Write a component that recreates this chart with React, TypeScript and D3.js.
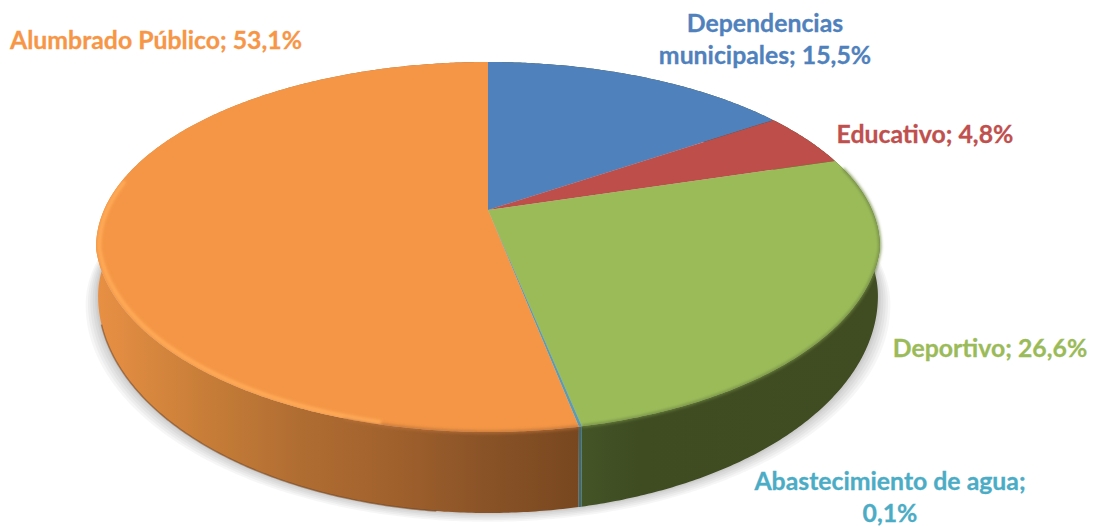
import React, { useMemo } from "react";
import * as d3 from "d3";

const categories = ["Dependencias municipales", "Educativo", "Deportivo", "Abastecimiento de agua", "Alumbrado Público"];
const shares = [15.5, 4.8, 26.6, 0.1, 53.1];
const shareLabels = ["15,5%", "4,8%", "26,6%", "0,1%", "53,1%"];
const faceColors = ["#4f81bd", "#bd4e4a", "#9bbb59", "#5a9cb4", "#f49645"];
const wallColors = ["#3f4c22", "#3f4c22", "url(#wallGreen)", "#3d6a70", "url(#wallOrange)"];
const labelColors = ["#4f81bd", "#c0504d", "#9bbb59", "#4bacc6", "#f79646"];

const W = 1093, H = 527;
const CX = 488, CY = 210, K = 384, A = 135.6, C = -0.2;
const RIM_CY = 247, RIM_RY = 185;
const WALL_CY = 296, WALL_RY = 217, WALL_SCALE = 390 / 392;

type P = [number, number];
const project = (th: number, r = 1): P => {
  const u = r * Math.sin(th), v = -r * Math.cos(th);
  const w = 1 + C * v;
  const x = CX + (K * u) / w;
  const y = (A * v + CY) / w;
  const s = (y - RIM_CY) / RIM_RY;
  const warp = s > 0 ? 10 * (1 - s) * (1 - Math.exp(-s * 12)) : 0;
  return [x, y - warp];
};
const lower = (th: number): P => {
  const [x] = project(th);
  const v = -Math.cos(th);
  const w = 1 + C * v;
  const s = ((A * v + CY) / w - RIM_CY) / RIM_RY;
  return [CX + (x - CX) * WALL_SCALE, WALL_CY + (s > 0 ? WALL_RY : RIM_RY) * s];
};
const line = d3.line<P>().curve(d3.curveLinear);
const angles = (a: number, b: number): number[] => {
  const n = Math.max(2, Math.ceil((b - a) * 120));
  return d3.range(n + 1).map((i) => a + ((b - a) * i) / n);
};
const arcPts = (a: number, b: number, r = 1): P[] => angles(a, b).map((t) => project(t, r));

export default function App() {
  const slices = useMemo(
    () => d3.pie<number>().sort(null).value((d) => d)(shares),
    []
  );
  const full = arcPts(0, 2 * Math.PI);
  const bottom = angles(0, 2 * Math.PI).map(lower);
  const orange = slices[4], green = slices[2];

  const labels = [
    { lines: ["Dependencias", `municipales; ${shareLabels[0]}`], x: 765, y: 32, i: 0 },
    { lines: [`${categories[1]}; ${shareLabels[1]}`], x: 925, y: 143, i: 1 },
    { lines: [`${categories[2]}; ${shareLabels[2]}`], x: 990, y: 357, i: 2 },
    { lines: ["Abastecimiento de agua;", shareLabels[3]], x: 890, y: 490, i: 3 },
    { lines: [`${categories[4]}; ${shareLabels[4]}`], x: 156, y: 49, i: 4 },
  ];

  return (
    <svg width={W} height={H} style={{ position: "absolute", left: 0, top: 0, background: "#fff" }}>
      <defs>
        <filter id="soft" filterUnits="userSpaceOnUse" x={0} y={0} width={W} height={H}>
          <feGaussianBlur stdDeviation="1.6" />
        </filter>
        <filter id="edge" filterUnits="userSpaceOnUse" x={0} y={0} width={W} height={H}>
          <feGaussianBlur stdDeviation="1.4" />
        </filter>
        <linearGradient id="wallOrange" gradientUnits="userSpaceOnUse" x1="96" x2="580" y1="0" y2="0">
          <stop offset="0" stopColor="#e89044" />
          <stop offset="0.22" stopColor="#c87e38" />
          <stop offset="0.42" stopColor="#b06d32" />
          <stop offset="0.6" stopColor="#a2622d" />
          <stop offset="0.8" stopColor="#8a5327" />
          <stop offset="1" stopColor="#78471f" />
        </linearGradient>
        <linearGradient id="wallGreen" gradientUnits="userSpaceOnUse" x1="578" x2="880" y1="0" y2="0">
          <stop offset="0" stopColor="#445527" />
          <stop offset="0.2" stopColor="#3f4c22" />
          <stop offset="1" stopColor="#404c21" />
        </linearGradient>
        <clipPath id="faceClip">
          <path d={line(full)! + "Z"} />
        </clipPath>
      </defs>

      {/* soft ground shadow built from stacked translucent outlines of the wall's footprint */}
      {[16, 13, 10, 7, 4, 2].map((g) => (
        <path
          key={"s" + g}
          d={line(bottom.map(([x, y]) => [CX + (x - CX) * (1 + g / 500), y + g * 0.55] as P))! + "Z"}
          fill="#000000"
          fillOpacity={0.035}
        />
      ))}

      {slices.map((s, i) => {
        const ts = angles(s.startAngle, s.endAngle);
        const poly = ts.map((t) => project(t)).concat(ts.map(lower).reverse());
        return <path key={"w" + i} d={line(poly)! + "Z"} fill={wallColors[i]} />;
      })}

      <path
        d={line(angles(orange.startAngle + 0.3, orange.endAngle - 1.9).map(lower))!}
        fill="none"
        stroke="#6e3f1b"
        strokeOpacity={0.55}
        strokeWidth={1.5}
      />

      {slices.map((s, i) => {
        const pts: P[] = [project(0, 0), ...arcPts(s.startAngle, s.endAngle)];
        return <path key={"f" + i} d={line(pts)! + "Z"} fill={faceColors[i]} />;
      })}

      <path
        d={line(arcPts(green.startAngle + 0.05, green.endAngle))!}
        fill="none"
        stroke="#6f8740"
        strokeOpacity={0.9}
        strokeWidth={2.5}
        filter="url(#soft)"
      />
      <path
        d={line(arcPts(orange.startAngle, orange.startAngle + 0.5))!}
        fill="none"
        stroke="#b9713a"
        strokeOpacity={0.8}
        strokeWidth={3}
        filter="url(#soft)"
      />
      <g clipPath="url(#faceClip)">
        <path
          d={line(arcPts(orange.startAngle + 0.42, orange.endAngle - 1.4, 0.992))!}
          fill="none"
          stroke="#ffab58"
          strokeWidth={4}
          filter="url(#edge)"
        />
      </g>

      {labels.map((l) =>
        l.lines.map((t, j) => (
          <text
            key={l.i + "-" + j}
            x={l.x}
            y={l.y + j * 32}
            textAnchor="middle"
            fontFamily="Lato, 'Open Sans', sans-serif"
            fontWeight={700}
            fontSize={24.8}
            fill={labelColors[l.i]}
            stroke={labelColors[l.i]}
            strokeWidth={0.3}
          >
            {t}
          </text>
        ))
      )}
    </svg>
  );
}
